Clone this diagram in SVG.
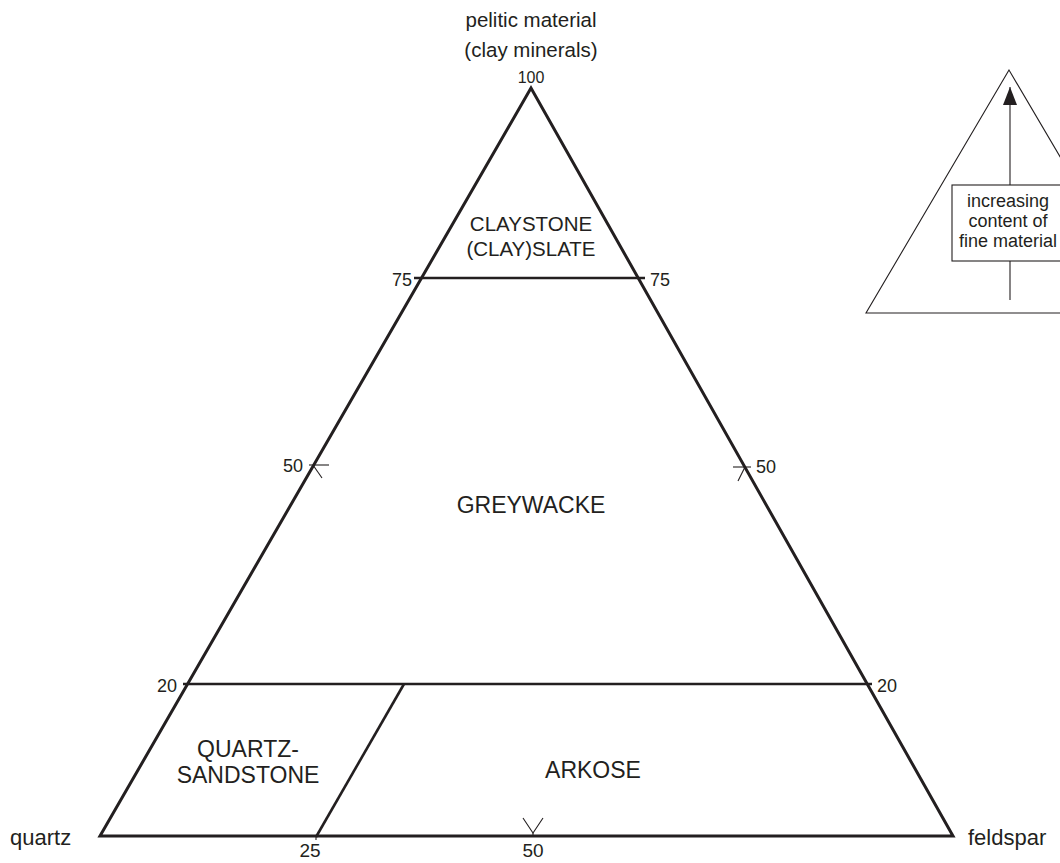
<svg xmlns="http://www.w3.org/2000/svg" width="1060" height="863" viewBox="0 0 1060 863">
<style>
text{font-family:"Liberation Sans",Arial,sans-serif;fill:#231f20}
.thick{stroke:#231f20;stroke-width:3;fill:none;stroke-linejoin:miter}
.mid{stroke:#231f20;stroke-width:2.6;fill:none}
.thin{stroke:#231f20;stroke-width:1.1;fill:none}
.c{text-anchor:middle}
.ax{font-size:22px}
.tk{font-size:18px}
</style>
<defs>
<marker id="ah" markerWidth="18" markerHeight="14" refX="18" refY="7" orient="auto" markerUnits="userSpaceOnUse" viewBox="0 0 18 14">
<path d="M0,0 L18,7 L0,14 Z" fill="#231f20"/>
</marker>
</defs>
<rect width="1060" height="863" fill="#fff"/>

<g id="main-triangle">
<polygon class="thick" points="531,88 100,836 953,836"/>
</g>

<g id="connectors">
<line class="mid" x1="414" y1="278" x2="645" y2="278"/>
<line class="mid" x1="183" y1="684" x2="872" y2="684"/>
<line class="mid" x1="404" y1="684" x2="316" y2="837"/>
<line class="thin" x1="316" y1="836" x2="316" y2="840"/>
<line class="thin" x1="309" y1="465" x2="329" y2="465"/>
<line class="thin" x1="313" y1="465" x2="322" y2="478"/>
<line class="thin" x1="733" y1="467" x2="751" y2="467"/>
<line class="thin" x1="745" y1="467" x2="738" y2="481"/>
<polyline class="thin" points="523,818 533,833 543,818"/>
<line class="thin" x1="533" y1="833" x2="533" y2="836"/>
</g>

<g id="region-claystone">
<text class="c" x="531" y="231" style="font-size:20.5px">CLAYSTONE</text>
<text class="c" x="531" y="256" style="font-size:20.5px">(CLAY)SLATE</text>
</g>
<g id="region-greywacke">
<text class="c" x="531" y="513" style="font-size:23px">GREYWACKE</text>
</g>
<g id="region-quartz-sandstone">
<text class="c" x="248" y="757" style="font-size:23px">QUARTZ-</text>
<text class="c" x="248" y="783" style="font-size:23px">SANDSTONE</text>
</g>
<g id="region-arkose">
<text class="c" x="593" y="778" style="font-size:23px">ARKOSE</text>
</g>

<g id="corner-labels">
<text class="c" x="531" y="27" style="font-size:20.5px">pelitic material</text>
<text class="c" x="531" y="57" style="font-size:20.5px">(clay minerals)</text>
<text x="10" y="845" class="ax">quartz</text>
<text x="968" y="845" class="ax">feldspar</text>
</g>

<g id="tick-labels">
<text class="c" x="531" y="83" style="font-size:16px">100</text>
<text x="412" y="286" class="tk" text-anchor="end">75</text>
<text x="650" y="286" class="tk">75</text>
<text x="303" y="472" class="tk" text-anchor="end">50</text>
<text x="756" y="473" class="tk">50</text>
<text x="177" y="692" class="tk" text-anchor="end">20</text>
<text x="877" y="692" class="tk">20</text>
<text class="c tk" x="310" y="857" style="font-size:19px">25</text>
<text class="c tk" x="533" y="857" style="font-size:19px">50</text>
</g>

<g id="legend">
<polygon class="thin" points="1009,70 866,313 1152,313"/>
<line class="thin" x1="1010" y1="300" x2="1010" y2="261"/>
<line class="thin" x1="1010" y1="185" x2="1010" y2="87" marker-end="url(#ah)"/>
<rect class="thin" x="952" y="185" width="113" height="76" fill="#fff"/>
<text class="c" x="1008" y="207" style="font-size:18px">increasing</text>
<text class="c" x="1008" y="227" style="font-size:18px">content of</text>
<text class="c" x="1008" y="247" style="font-size:18px">fine material</text>
</g>
</svg>
